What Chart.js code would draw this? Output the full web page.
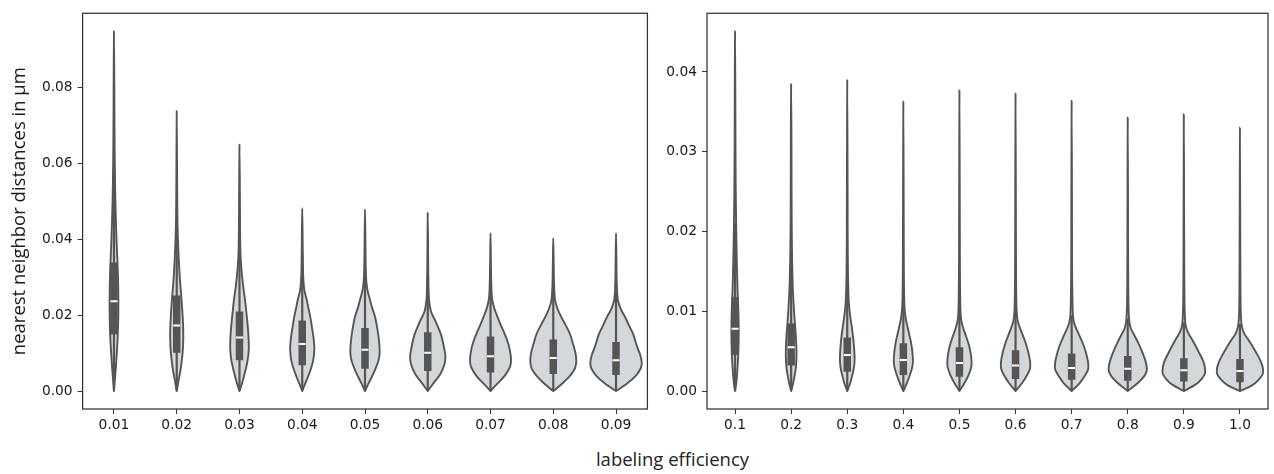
<!DOCTYPE html>
<html><head><meta charset="utf-8">
<script src="https://cdn.jsdelivr.net/npm/chart.js@4.4.1/dist/chart.umd.min.js"></script>
<style>
html,body{margin:0;padding:0;background:#fff;width:1274px;height:474px;overflow:hidden;}
#c1{position:absolute;left:0;top:0;width:665px;height:440px;}
#c2{position:absolute;left:660px;top:0;width:614px;height:440px;}
#xt{position:absolute;left:472.5px;width:400px;top:448px;text-align:center;font-family:"Open Sans";font-size:18.5px;line-height:22px;color:#222;}
</style></head><body>
<div id="c1"><canvas id="k1"></canvas></div>
<div id="c2"><canvas id="k2"></canvas></div>
<div id="xt">labeling efficiency</div>
<script>
// ---------- left panel data ----------
const leftCategories = ['0.01','0.02','0.03','0.04','0.05','0.06','0.07','0.08','0.09'];
const leftYTicks = [0, 0.02, 0.04, 0.06, 0.08];
const leftMax     = [0.0949, 0.0739, 0.0650, 0.0482, 0.0479, 0.0470, 0.0416, 0.0403, 0.0416];
const leftQ1      = [0.0149, 0.0101, 0.0081, 0.0068, 0.0059, 0.0053, 0.0049, 0.0045, 0.0042];
const leftMedian  = [0.0237, 0.0173, 0.0141, 0.0124, 0.0109, 0.0101, 0.0092, 0.0087, 0.0081];
const leftQ3      = [0.0339, 0.0252, 0.0210, 0.0186, 0.0166, 0.0155, 0.0144, 0.0136, 0.0129];
const leftWhisker = [0.0593, 0.0450, 0.0390, 0.0363, 0.0327, 0.0308, 0.0287, 0.0272, 0.0260];
// kernel density profile: y levels and relative density at each level
const leftKdeY = [
  [0, 0.005, 0.01, 0.015, 0.02, 0.025, 0.03, 0.035, 0.04, 0.05, 0.06, 0.07, 0.08, 0.0949],
  [0, 0.003, 0.006, 0.01, 0.014, 0.018, 0.022, 0.026, 0.03, 0.035, 0.04, 0.045, 0.055, 0.0739],
  [0, 0.002, 0.005, 0.008, 0.011, 0.014, 0.017, 0.0195, 0.024, 0.028, 0.032, 0.036, 0.042, 0.052, 0.065],
  [0, 0.002, 0.005, 0.008, 0.011, 0.014, 0.017, 0.0195, 0.022, 0.024, 0.0265, 0.029, 0.033, 0.04, 0.0482],
  [0, 0.002, 0.005, 0.008, 0.010, 0.013, 0.016, 0.0195, 0.022, 0.024, 0.0265, 0.029, 0.033, 0.04, 0.0479],
  [0, 0.002, 0.0045, 0.007, 0.009, 0.011, 0.015, 0.0185, 0.021, 0.024, 0.028, 0.035, 0.047],
  [0, 0.002, 0.004, 0.0065, 0.0085, 0.011, 0.013, 0.0151, 0.0175, 0.0195, 0.022, 0.0245, 0.028, 0.034, 0.0416],
  [0, 0.002, 0.004, 0.006, 0.008, 0.010, 0.0125, 0.0151, 0.0175, 0.0195, 0.0215, 0.024, 0.028, 0.034, 0.0403],
  [0, 0.002, 0.004, 0.006, 0.0075, 0.0095, 0.012, 0.015, 0.0175, 0.0195, 0.0215, 0.024, 0.028, 0.034, 0.0416]
];
const leftKdeW = [
  [0, 1.5, 2.8, 3.8, 4.3, 4.3, 4.0, 3.3, 2.5, 1.4, 0.8, 0.5, 0.35, 0],
  [0, 2, 4, 5.8, 6.5, 6.2, 5.3, 4.2, 3.0, 2.0, 1.2, 0.7, 0.4, 0],
  [0, 2.5, 5.5, 8, 9.2, 9, 8.2, 7.3, 5.5, 3.5, 2, 1, 0.6, 0.4, 0],
  [0, 3, 7.5, 10.8, 12, 11.2, 9.5, 8, 6, 4.5, 2.2, 1.2, 0.7, 0.4, 0],
  [0, 3.5, 9, 13.3, 14.5, 14, 12.5, 10, 7, 5, 2.5, 1.3, 0.7, 0.4, 0],
  [0, 5.5, 12.5, 16.5, 17.5, 16.5, 13, 7.5, 3.2, 1.3, 0.7, 0.4, 0],
  [0, 7, 14, 19.5, 20.3, 19, 17, 14, 10, 7, 3.5, 1.5, 0.8, 0.4, 0],
  [0, 9, 16.5, 21.5, 22.8, 22, 19.5, 16.5, 12, 8, 4.5, 1.8, 0.8, 0.4, 0],
  [0, 11, 19.5, 24.5, 25.5, 24, 20.5, 17, 12.5, 9, 5, 1.8, 0.8, 0.4, 0]
];

// ---------- right panel data ----------
const rightCategories = ['0.1','0.2','0.3','0.4','0.5','0.6','0.7','0.8','0.9','1.0'];
const rightYTicks = [0, 0.01, 0.02, 0.03, 0.04];
const rightMax     = [0.0451, 0.0385, 0.0390, 0.0363, 0.0377, 0.0373, 0.0364, 0.0343, 0.0347, 0.0330];
const rightQ1      = [0.0045, 0.0032, 0.0024, 0.0020, 0.0018, 0.0015, 0.0014, 0.0013, 0.0012, 0.0011];
const rightMedian  = [0.0078, 0.0055, 0.0045, 0.0039, 0.0035, 0.0032, 0.0029, 0.0028, 0.0026, 0.0025];
const rightQ3      = [0.0118, 0.0085, 0.0067, 0.0060, 0.0055, 0.0051, 0.0047, 0.0044, 0.0041, 0.0040];
const rightWhisker = [0.0210, 0.0165, 0.0133, 0.0119, 0.0110, 0.0104, 0.0095, 0.0091, 0.0086, 0.0084];
const rightKdeY = [
  [0, 0.001, 0.003, 0.005, 0.007, 0.009, 0.011, 0.013, 0.016, 0.02, 0.025, 0.03, 0.037, 0.0451],
  [0, 0.001, 0.002, 0.003, 0.0045, 0.006, 0.0075, 0.009, 0.011, 0.013, 0.016, 0.02, 0.026, 0.032, 0.0385],
  [0, 0.001, 0.002, 0.003, 0.004, 0.005, 0.0065, 0.008, 0.0095, 0.011, 0.013, 0.016, 0.021, 0.028, 0.039],
  [0, 0.001, 0.002, 0.003, 0.0038, 0.0048, 0.006, 0.007, 0.008, 0.009, 0.0102, 0.0125, 0.017, 0.025, 0.0363],
  [0, 0.001, 0.002, 0.003, 0.0037, 0.0046, 0.0057, 0.0067, 0.0077, 0.0087, 0.0098, 0.012, 0.016, 0.025, 0.0377],
  [0, 0.001, 0.002, 0.0028, 0.0036, 0.0045, 0.0055, 0.0064, 0.0077, 0.0087, 0.0098, 0.012, 0.016, 0.025, 0.0373],
  [0, 0.001, 0.002, 0.0027, 0.0034, 0.0043, 0.0053, 0.0063, 0.0073, 0.0083, 0.0093, 0.0115, 0.015, 0.024, 0.0364],
  [0, 0.001, 0.0018, 0.0025, 0.0032, 0.004, 0.005, 0.006, 0.007, 0.0078, 0.0088, 0.0105, 0.014, 0.022, 0.0343],
  [0, 0.0008, 0.0015, 0.0022, 0.003, 0.0038, 0.0047, 0.0057, 0.0066, 0.0074, 0.0083, 0.0098, 0.013, 0.02, 0.0347],
  [0, 0.0007, 0.0014, 0.0021, 0.0028, 0.0036, 0.0045, 0.0055, 0.0064, 0.0072, 0.0081, 0.0096, 0.013, 0.02, 0.033]
];
const rightKdeW = [
  [0, 1.2, 2.5, 3.3, 3.6, 3.5, 3.0, 2.4, 1.8, 1.2, 0.7, 0.45, 0.3, 0],
  [0, 2, 3.5, 4.7, 5.3, 5, 4.3, 3.4, 2.4, 1.6, 1, 0.6, 0.4, 0.3, 0],
  [0, 3, 5, 6.7, 7.3, 7, 6, 4.5, 2.8, 1.6, 1, 0.6, 0.4, 0.3, 0],
  [0, 3.5, 6.5, 8.8, 9.5, 9, 7.7, 6, 4.2, 2.5, 1.3, 0.7, 0.45, 0.3, 0],
  [0, 5, 9, 11.7, 12, 11.3, 9.5, 7, 4.2, 2, 1.1, 0.7, 0.45, 0.3, 0],
  [0, 6.5, 11.5, 14.3, 14.5, 13.3, 11.3, 9, 5, 2.3, 1.2, 0.7, 0.45, 0.3, 0],
  [0, 8, 13.5, 16.3, 16.5, 15.2, 13, 10, 6.5, 3, 1.4, 0.8, 0.45, 0.3, 0],
  [0, 10, 16, 18.8, 18.6, 17, 14, 10.5, 6.5, 3.2, 1.5, 0.8, 0.45, 0.3, 0],
  [0, 11.5, 17.5, 21, 20.8, 19, 15.5, 11.5, 7.5, 3.8, 1.7, 0.9, 0.5, 0.3, 0],
  [0, 12, 18.5, 22.5, 22.8, 21, 17.5, 13, 8.5, 4.3, 1.9, 0.9, 0.5, 0.3, 0]
];

// ---------- styling ----------
const FILL = '#d4d8da';
const EDGE = '#555555';
const HALF = 0.41;            // half of violin width in category units
const TICKFONT = {family: 'DejaVu Sans', size: 13.8};

function buildDatasets(kdeY, kdeW, q1, med, q3, wh) {
  const maxW = Math.max(...kdeW.flat());
  const ds = [];
  kdeY.forEach((ys, i) => {
    const ws = kdeW[i];
    const right = ys.map((y, k) => ({x: i + HALF * ws[k] / maxW, y}));
    const left = ys.slice(0, -1).map((y, k) => ({x: i - HALF * ws[k] / maxW, y})).reverse();
    ds.push({data: right.concat(left), fill: 'shape', backgroundColor: FILL, borderColor: EDGE,
             borderWidth: 1.9, borderCapStyle: 'round', borderJoinStyle: 'round', pointRadius: 0, tension: 0.3, order: 4});
    ds.push({data: [{x: i, y: 0}, {x: i, y: wh[i]}], borderColor: EDGE, borderWidth: 2.2,
             pointRadius: 0, fill: false, order: 3});
    ds.push({data: [{x: i, y: q1[i]}, {x: i, y: q3[i]}], borderColor: EDGE, borderWidth: 7.5,
             borderCapStyle: 'butt', pointRadius: 0, fill: false, order: 2});
  });
  ds.push({data: med.map((m, i) => ({x: i, y: m})), showLine: false, pointStyle: 'line',
           pointRadius: 3.5, pointBorderWidth: 2, pointBorderColor: '#ffffff', pointBackgroundColor: '#ffffff', order: 1});
  return ds;
}

const framePlugin = {
  id: 'frame',
  afterDatasetsDraw(chart) {
    const {ctx, chartArea: a} = chart;
    ctx.save();
    ctx.strokeStyle = '#333';
    ctx.lineWidth = 1.25;
    ctx.strokeRect(a.left, a.top, a.right - a.left, a.bottom - a.top);
    ctx.restore();
  }
};

function makeOptions(cats, yTicks, maxVals, yAxisWidth, padRight, yTitle) {
  const dmax = Math.max(...maxVals);
  const tickGrid = {display: true, drawOnChartArea: false, drawTicks: true, tickLength: 5, color: '#333', lineWidth: 1};
  return {
    responsive: true, maintainAspectRatio: false, animation: false,
    layout: {padding: {top: 12, right: padRight, left: 0, bottom: 0}},
    plugins: {legend: {display: false}, tooltip: {enabled: false}},
    events: [],
    scales: {
      x: {
        type: 'linear', min: -0.5, max: cats.length - 0.5,
        afterBuildTicks: s => { s.ticks = cats.map((c, i) => ({value: i})); },
        afterFit: s => { s.height = 31; },
        ticks: {callback: v => cats[v], font: TICKFONT, color: '#1a1a1a', padding: 3, maxRotation: 0, autoSkip: false},
        grid: tickGrid,
        border: {display: false}
      },
      y: {
        type: 'linear', min: -0.05 * dmax, max: 1.05 * dmax,
        afterBuildTicks: s => { s.ticks = yTicks.map(v => ({value: v})); },
        afterFit: s => { s.width = yAxisWidth; },
        ticks: {callback: v => v.toFixed(2), font: TICKFONT, color: '#1a1a1a', padding: 5},
        grid: tickGrid,
        border: {display: false},
        title: yTitle ? {display: true, text: yTitle, color: '#1a1a1a',
                         font: {family: 'Open Sans', size: 18.5}, padding: {top: 9, bottom: 0}} : {display: false}
      }
    }
  };
}

new Chart(document.getElementById('k1'), {
  type: 'line',
  data: {datasets: buildDatasets(leftKdeY, leftKdeW, leftQ1, leftMedian, leftQ3, leftWhisker)},
  options: makeOptions(leftCategories, leftYTicks, leftMax, 82.6, 17.6, 'nearest neighbor distances in µm'),
  plugins: [framePlugin]
});
new Chart(document.getElementById('k2'), {
  type: 'line',
  data: {datasets: buildDatasets(rightKdeY, rightKdeW, rightQ1, rightMedian, rightQ3, rightWhisker)},
  options: makeOptions(rightCategories, rightYTicks, rightMax, 47, 2, null),
  plugins: [framePlugin]
});
</script></body></html>
